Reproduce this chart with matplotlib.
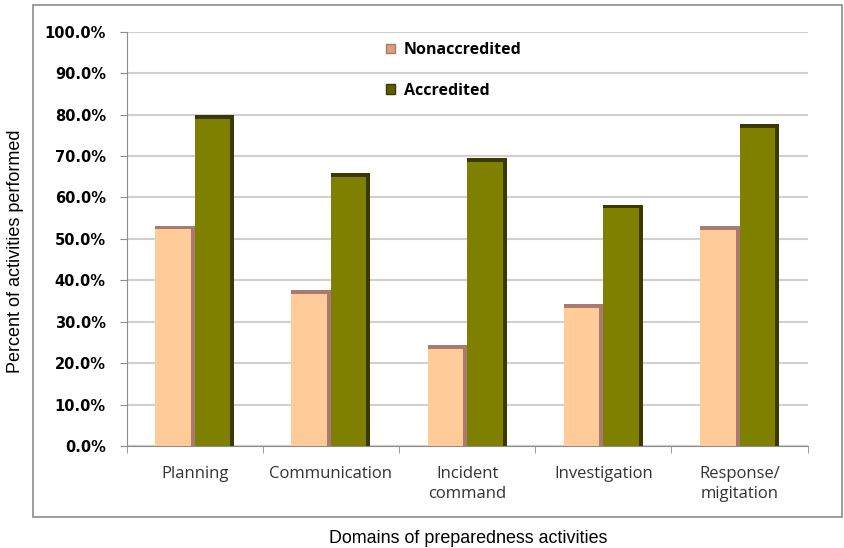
import matplotlib.pyplot as plt
import matplotlib.patches as mpatches
import numpy as np

# data
domains = ['Planning', 'Communication', 'Incident\ncommand', 'Investigation', 'Response/\nmigitation']
nonaccredited = [53.2, 37.6, 24.4, 34.3, 53.0]
accredited = [79.8, 65.8, 69.5, 58.3, 77.7]
y_ticks = [0, 10, 20, 30, 40, 50, 60, 70, 80, 90, 100]

plt.rcParams['font.family'] = ['Open Sans', 'DejaVu Sans']

fig = plt.figure(figsize=(8.44, 5.48), dpi=100)
ax = fig.add_axes([0.150, 0.186, 0.807, 0.756])

# grey frame around the chart area
frame = mpatches.Rectangle((0.039, 0.0566), 0.9585, 0.934, transform=fig.transFigure,
                           fill=False, edgecolor='#8c8c8c', linewidth=1.2)
fig.patches.append(frame)

x = np.arange(len(domains))
w = 0.29
shade = 0.03

# nonaccredited bars: mauve shade, peach face
ax.bar(x - w / 2, nonaccredited, width=w, color='#a87a70', zorder=2)
ax.bar(x - w / 2 - shade / 2, np.array(nonaccredited) - 0.9, width=w - shade,
       color='#ffcc99', zorder=3)

# accredited bars: dark shade, olive face
ax.bar(x + w / 2, accredited, width=w, color='#3a3a00', zorder=2)
ax.bar(x + w / 2 - shade / 2, np.array(accredited) - 0.9, width=w - shade,
       color='#808000', zorder=3)

ax.set_xlim(-0.5, len(domains) - 0.5)
ax.set_ylim(0, 100)
ax.set_yticks(y_ticks)
ax.set_yticklabels(['%.1f%%' % v for v in y_ticks], family='DejaVu Sans',
                   fontsize=10.5, fontweight='bold')
ax.yaxis.grid(True, color='#d0d0d0', linewidth=1.5, zorder=0)
ax.set_axisbelow(True)

ax.set_xticks(x)
ax.set_xticklabels(domains, fontsize=12, color='#333333', linespacing=1.35)
ax.set_xticks(np.arange(len(domains) + 1) - 0.5, minor=True)
ax.tick_params(axis='x', which='major', length=0, pad=14)
ax.tick_params(axis='x', which='minor', length=5, color='#8c8c8c')
ax.tick_params(axis='y', length=5, color='#8c8c8c', pad=10)

for side in ['top', 'right']:
    ax.spines[side].set_visible(False)
for side in ['left', 'bottom']:
    ax.spines[side].set_color('#8c8c8c')

# legend
handles = [mpatches.Patch(facecolor='#d9a07a', edgecolor='#a87a70', label='Nonaccredited'),
           mpatches.Patch(facecolor='#5e5e00', edgecolor='#3a3a00', label='Accredited')]
ax.legend(handles=handles, loc='upper left', bbox_to_anchor=(0.36, 1.01), frameon=False,
          handlelength=0.55, handleheight=0.55, handletextpad=0.55, labelspacing=1.55,
          prop={'family': 'Open Sans', 'weight': 'bold', 'size': 11.5})

fig.text(0.0184, 0.542, 'Percent of activities performed', rotation=90, ha='center', va='center',
         family='Liberation Sans', fontsize=13)
fig.text(0.5545, 0.018, 'Domains of preparedness activities', ha='center', va='center',
         family='Liberation Sans', fontsize=12.9)

fig.savefig('out.png', dpi=100)
